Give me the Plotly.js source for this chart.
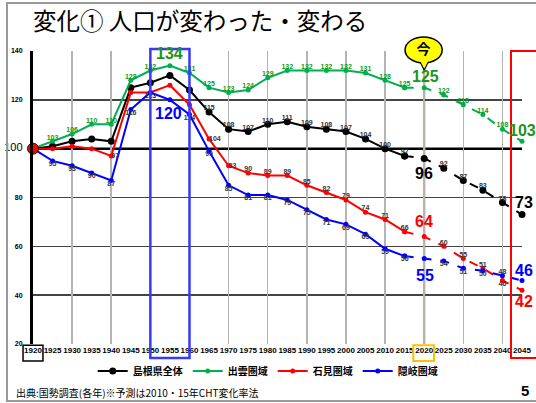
<!DOCTYPE html>
<html><head><meta charset="utf-8">
<script src="https://cdn.plot.ly/plotly-3.0.1.min.js"></script>
<style>html,body{margin:0;padding:0;background:#fff}#chart{width:536px;height:403px}</style>
</head><body><div id="chart"></div>
<script>
// ---- data ----
const years = [1920,1925,1930,1935,1940,1945,1950,1955,1960,1965,1970,1975,1980,1985,1990,1995,2000,2005,2010,2015,2020,2025,2030,2035,2040,2045];
const shimane = [100,101,103,104,103,125,127,130,124,115,108,107,110,111,109,108,107,104,100,97,96,92,87,83,78,73];
const izumo   = [100,103,106,110,110,128,132,134,131,125,123,124,129,132,132,132,132,131,128,125,125,122,118,114,108,103];
const iwami   = [100,100,101,100,97,123,123,126,118,104,93,90,89,89,85,82,79,74,71,66,64,60,55,51,46,42];
const oki     = [100,95,93,90,87,116,123,120,114,99,85,81,81,79,75,71,69,65,59,56,55,54,51,50,48,46];
const seriesNames = ['島根県全体','出雲圏域','石見圏域','隠岐圏域'];
const yTicks = [20,40,60,80,100,120,140];
const lastActualYear = 2015;
const nowYear = 2020;
const titleText = '変化① 人口が変わった・変わる';
const sourceText = '出典:国勢調査(各年)※予測は2010・15年CHT変化率法';
const pageNo = '5';
const nowText = '今';

// ---- label placement (style, not data) ----
const T='top center', B='bottom center', R='middle right', N='';
const posShimane = [N,N,N,N,N,N,N,N,N,T,T,T,T,T,T,T,T,T,T,T,N,T,T,T,T,N];
const posIzumo   = [N,T,T,T,T,T,T,N,T,T,T,T,T,T,T,T,T,T,T,T,N,T,T,T,T,N];
const posIwami   = [N,N,N,N,R,N,N,N,N,R,R,T,T,T,T,T,T,T,T,T,N,T,T,T,B,N];
const posOki     = [N,B,B,B,B,B,B,N,B,B,B,B,B,B,B,B,B,B,B,B,N,B,B,B,T,N];

const series = [
  {vals: shimane, name: seriesNames[0], color:'#000000', msize:7, pos:posShimane, tcolor:'#333'},
  {vals: izumo,   name: seriesNames[1], color:'#00b050', msize:5, pos:posIzumo,   tcolor:'#0a9a1a'},
  {vals: iwami,   name: seriesNames[2], color:'#ff0000', msize:5, pos:posIwami,   tcolor:'#333'},
  {vals: oki,     name: seriesNames[3], color:'#0000ff', msize:5, pos:posOki,     tcolor:'#333'}
];
const split = years.indexOf(lastActualYear);
const traces = [];
series.forEach(s => {
  traces.push({x: years.slice(0, split+1), y: s.vals.slice(0, split+1), type:'scatter', mode:'lines+markers',
    name: s.name, legendgroup: s.name, line:{color:s.color, width:2}, marker:{color:s.color, size:s.msize}, cliponaxis:false, hoverinfo:'skip'});
});
series.forEach(s => {
  traces.push({x: years.slice(split), y: s.vals.slice(split), type:'scatter', mode:'lines+markers',
    name: s.name, legendgroup: s.name, showlegend:false, line:{color:s.color, width:2, dash:'dash'}, marker:{color:s.color, size:s.msize}, cliponaxis:false, hoverinfo:'skip'});
});
series.forEach(s => {
  traces.push({x: years, y: s.vals, type:'scatter', mode:'text', showlegend:false, cliponaxis:false, hoverinfo:'skip',
    text: s.vals.map((v,i)=> s.pos[i] ? String(v) : ''),
    textposition: s.pos.map(p => p || 'top center'),
    textfont:{family:'Liberation Sans, Arial', size:7, weight:'bold', color:s.tcolor}});
});
// start marker at 1920 / 100
traces.push({x:[years[0]], y:[shimane[0]], type:'scatter', mode:'markers', showlegend:false, cliponaxis:false, hoverinfo:'skip',
  marker:{color:'#ff0000', size:11, line:{color:'#400000', width:1}}});
// helper traces so that the grid overlay axes exist
traces.push({x:[years[0]], y:[null], xaxis:'x2', yaxis:'y', showlegend:false, hoverinfo:'skip', mode:'markers'});
traces.push({x:[years[0]], y:[null], xaxis:'x', yaxis:'y2', showlegend:false, hoverinfo:'skip', mode:'markers'});

// big labels
const big = [
  {s:izumo,   yr:1955, color:'#1a961a', xs:0, ys:12},
  {s:oki,     yr:1955, color:'#0000ff', xs:-1, ys:-14},
  {s:izumo,   yr:2020, color:'#1a961a', xs:1, ys:11},
  {s:shimane, yr:2020, color:'#000000', xs:0, ys:-15},
  {s:iwami,   yr:2020, color:'#ff0000', xs:0, ys:15},
  {s:oki,     yr:2020, color:'#0000ff', xs:1, ys:-17},
  {s:izumo,   yr:2045, color:'#1a961a', xs:0, ys:11},
  {s:shimane, yr:2045, color:'#000000', xs:2, ys:12},
  {s:oki,     yr:2045, color:'#0000ff', xs:2, ys:10},
  {s:iwami,   yr:2045, color:'#ff0000', xs:2, ys:-11}
];
const annotations = big.map(b => {
  const i = years.indexOf(b.yr);
  return {x: years[i], y: b.s[i], xref:'x', yref:'y', text: String(b.s[i]), showarrow:false,
    xshift:b.xs, yshift:b.ys, font:{family:'Liberation Sans, Arial', size:16, weight:'bold', color:b.color}};
});
annotations.push({x:-0.039, xref:'paper', xanchor:'left', y:-0.167, yref:'paper', yanchor:'middle', text:sourceText, showarrow:false,
  font:{family:'Noto Sans CJK JP', size:10, color:'#000'}});
annotations.push({x:1.006, xref:'paper', xanchor:'center', y:-0.157, yref:'paper', yanchor:'middle', text:pageNo, showarrow:false,
  font:{family:'Liberation Sans, Arial', size:15, weight:'bold', color:'#000'}});

const shapes = [
  {type:'rect', xref:'paper', yref:'paper', x0:-0.0532, x1:1.04, y0:-0.1945, y1:1.164, line:{color:'#999', width:2}},
  {type:'line', xref:'paper', yref:'y', x0:0, x1:1, y0:100, y1:100, line:{color:'#000', width:2.5}, layer:'between'},
  {type:'line', xref:'x', yref:'paper', x0:nowYear, x1:nowYear, y0:0, y1:0.935, line:{color:'#ffc000', width:2.5}, layer:'between'},
  {type:'rect', xref:'x', yref:'paper', x0:1950, x1:1960, y0:-0.048, y1:1.007, line:{color:'#3838ff', width:2.5}},
  {type:'rect', xref:'paper', yref:'paper', x0:0.9775, x1:1.04, y0:-0.048, y1:1.0, line:{color:'#ff0000', width:2}},
  {type:'rect', xref:'x', yref:'paper', x0:2017.2, x1:2022.5, y0:-0.058, y1:-0.004, line:{color:'#ffc000', width:2}},
  {type:'rect', xref:'paper', yref:'paper', x0:-0.0204, x1:0.0204, y0:-0.058, y1:-0.004, line:{color:'#000', width:1.5}},
  {type:'path', xref:'x', yref:'paper', path:'M 2018.6,0.975 L 2020,0.935 L 2021.4,0.975 Z', fillcolor:'#ffff00', line:{color:'#000', width:1.5}},
  {type:'circle', xref:'x', yref:'paper', x0:2015.1, x1:2024.6, y0:0.959, y1:1.048, fillcolor:'#ffff00', line:{color:'#000', width:1.5},
    label:{text:nowText, textposition:'middle center', font:{family:'Noto Sans CJK JP', size:14, weight:'bold', color:'#000'}}},
  {type:'path', xref:'x', yref:'paper', path:'M 2018.9,0.968 L 2020,0.940 L 2021.1,0.968 Z', fillcolor:'#ffff00', line:{color:'#ffff00', width:0}}
];

const layout = {
  width:536, height:403,
  margin:{l:33, r:14, t:51, b:59},
  paper_bgcolor:'#fff', plot_bgcolor:'#fff',
  title:{text:titleText, xref:'container', x:33/536, xanchor:'left', yref:'container', y:1-22/403, yanchor:'middle',
    font:{family:'Noto Sans CJK JP', size:23.5, color:'#000'}},
  xaxis:{range:[1920,2045], tickvals:years, ticktext:years.map(String), tickangle:0, showgrid:false, zeroline:false,
    showline:false, ticks:'', tickfont:{family:'Liberation Sans, Arial', size:8, weight:'bold', color:'#000'}, fixedrange:true},
  xaxis2:{overlaying:'x', range:[1920,2045], tick0:1920, dtick:10, showgrid:true, gridcolor:'#b4b4b4', gridwidth:1.5,
    showticklabels:false, zeroline:false, showline:false, ticks:''},
  yaxis:{range:[20,140], tickvals:yTicks, ticktext:yTicks.map(v => v===100 ? '<span style="font-size:11px;font-weight:normal">100</span>' : String(v)),
    showgrid:false, zeroline:false, showline:true, linecolor:'#000', linewidth:3, ticks:'', ticklabelstandoff:6,
    tickfont:{family:'Liberation Sans, Arial', size:7, weight:'bold', color:'#000'}},
  yaxis2:{overlaying:'y', range:[20,140], tickvals:yTicks.filter(v => v!==20 && v!==100), showgrid:true, gridcolor:'#444', gridwidth:1.5,
    showticklabels:false, zeroline:false, showline:false, ticks:''},
  showlegend:true,
  legend:{orientation:'h', x:0.48, xanchor:'center', y:-0.092, yanchor:'middle', traceorder:'normal',
    font:{family:'Noto Sans CJK JP', size:10, weight:'bold', color:'#000'}, bgcolor:'rgba(0,0,0,0)'},
  annotations:annotations,
  shapes:shapes
};
Plotly.newPlot('chart', traces, layout, {staticPlot:true, displayModeBar:false});
</script>
</body></html>
